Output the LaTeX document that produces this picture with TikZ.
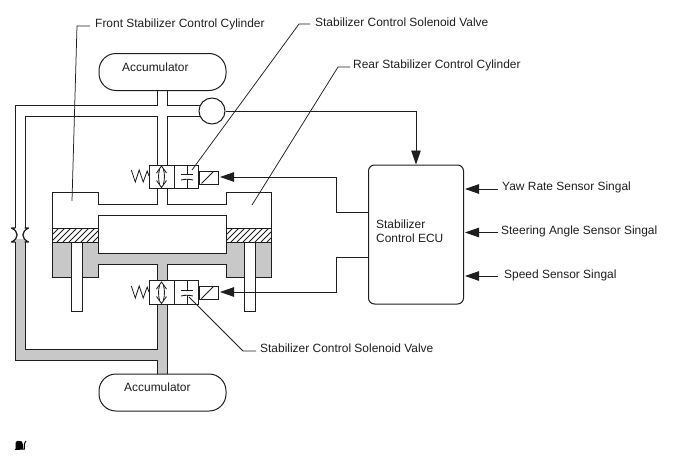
\documentclass[tikz,border=0pt]{standalone}
\usepackage{fontspec}
\setmainfont{Liberation Sans}
\usetikzlibrary{arrows.meta,calc}
\definecolor{ink}{RGB}{30,30,30}
\definecolor{fluid}{RGB}{200,200,200}
\tikzset{
  pipe/.style={draw=ink,line width=1pt,line join=miter},
  thinline/.style={draw=ink,line width=0.85pt},
  leader/.style={draw=ink,line width=0.75pt},
  signal/.style={draw=ink,line width=0.9pt,-{Triangle[length=14pt,width=9.5pt]}},
  accu/.style={draw=ink,line width=1pt,rectangle,rounded corners=17pt,minimum width=127pt,minimum height=37pt,inner sep=0pt},
  lbl/.style={inner sep=0pt,font=\fontsize{11.95}{14}\selectfont,text=ink,anchor=west},
  valvebody/.style={draw=ink,line width=1pt,fill=white,rectangle,minimum width=49pt,minimum height=23.5pt,inner sep=0pt},
  coilbox/.style={draw=ink,line width=1pt,fill=white,rectangle,minimum width=19pt,minimum height=13pt,inner sep=0pt},
  ecubox/.style={draw=ink,line width=1pt,rectangle,rounded corners=6pt,minimum width=95pt,minimum height=139pt,inner sep=0pt},
  gauge/.style={draw=ink,line width=1pt,fill=white,circle,minimum size=26pt,inner sep=0pt},
  rodpiece/.style={draw=ink,line width=1pt,fill=white}
}
% Spool symbols shared by both solenoid valves; #1 = top edge of the valve body
\newcommand{\valvesymbols}[1]{%
  \begin{scope}[yshift=-#1pt]
    \draw[thinline] (174,0) -- (174,23.5);
    % spring
    \draw[thinline] (131.3,5) -- (135.3,17) -- (139.2,5) -- (143.2,17) -- (147.2,6) -- (149,11);
    % double-headed passage
    \draw[thinline] (156.5,8) -- (161.5,1) -- (166.5,8);
    \draw[thinline] (156.5,15.5) -- (161.5,22.5) -- (166.5,15.5);
    \draw[thinline] (159.6,4) .. controls (158.2,9) and (158.2,14) .. (159.6,19.5);
    \draw[thinline] (163.4,4) .. controls (164.8,9) and (164.8,14) .. (163.4,19.5);
    % blocked passage
    \draw[thinline] (187,0) -- (187,9);
    \draw[thinline] (181,9) -- (193,9);
    \draw[thinline] (181,15) .. controls (185,14) and (189,14) .. (193,15);
    \draw[thinline] (187,14.3) -- (187,23.5);
  \end{scope}}
\begin{document}
\begin{tikzpicture}[x=1pt,y=-1pt]
\useasboundingbox (0,0) rectangle (688,463);

% Fluid-filled return circuit and lower manifold
\fill[fluid] (157,304) -- (167,304) -- (167,374) -- (157,374) -- (157,360) -- (15,360) -- (15,239)
  -- (25,239) -- (25,349) -- (157,349) -- cycle;
\path[pipe,fill=fluid] (98,242) -- (98,253) -- (226,253) -- (226,242) -- (271,242) -- (271,277) -- (226,277)
  -- (226,264) -- (167,264) -- (167,281) -- (157,281) -- (157,264) -- (98,264) -- (98,277) -- (52,277) -- (52,242) -- cycle;

% Supply circuit from the upper accumulator
\draw[pipe] (157,90) -- (157,105) -- (15,105) -- (15,228);
\draw[pipe] (157,165) -- (157,116) -- (25,116) -- (25,228);
\draw[pipe] (167,90) -- (167,105) -- (200,105);
\draw[pipe] (167,165) -- (167,116) -- (201,116);

% Return circuit outline
\draw[pipe] (15,242) -- (15,360) -- (157,360) -- (157,374);
\draw[pipe] (25,242) -- (25,349) -- (157,349) -- (157,304);
\draw[pipe] (167,304) -- (167,374);

% Restriction in the crossover line
\draw[pipe,line width=1.3pt,line join=round,line cap=round] (15,228) -- (11.5,228) .. controls (19,231.5) and (19,238.5) .. (11.5,242) -- (15,242);
\draw[pipe,line width=1.3pt,line join=round,line cap=round] (25,228) -- (28.5,228) .. controls (21,231.5) and (21,238.5) .. (28.5,242) -- (25,242);

% Cylinder bodies and the pipes that join them to the upper valve
\draw[pipe] (157,189) -- (157,204) -- (98,204) -- (98,192) -- (52,192) -- (52,242);
\draw[pipe] (167,189) -- (167,204) -- (226,204) -- (226,192) -- (271,192) -- (271,242);
\draw[pipe,fill=white] (98,253) -- (98,215) -- (226,215) -- (226,253);

% Pistons
\foreach \xa/\xb in {52/98,226/271}{
  \begin{scope}
    \clip (\xa,228) rectangle (\xb,242);
    \fill[white] (\xa,228) rectangle (\xb,242);
    \foreach \d in {-6,0,...,60}
      \draw[thinline] (\xa+\d-7,242) -- (\xa+\d+7,228);
  \end{scope}
  \draw[pipe] (\xa,228) rectangle (\xb,242);
}
\draw[rodpiece] (71,242) rectangle (82,311.5);
\draw[rodpiece] (244,242) rectangle (255,311.5);

% Accumulators and pressure sensor
\node[accu] (accTop) at (162.5,72) {};
\node[accu] (accBot) at (162.5,392.5) {};
\node[lbl] (accTopText) at (122,67) {Accumulator};
\node[lbl] (accBotText) at (124,387) {Accumulator};
\node[gauge] (sensor) at (212,111) {};

% Solenoid valves
\node[valvebody] (valveTop) at (173.5,177) {};
\node[valvebody] (valveBot) at (173.5,292.5) {};
\valvesymbols{165}
\valvesymbols{281}
\node[coilbox] (coilTop) at (208.5,177.5) {};
\node[coilbox] (coilBot) at (208.5,292.5) {};
\draw[thinline] (coilTop.south west) ++(3,-1) -- ($(coilTop.north east)+(-5,1)$);
\draw[thinline] (coilBot.south west) ++(3,-1) -- ($(coilBot.north east)+(-5,1)$);

% ECU and its signal wiring
\node[ecubox] (ecu) at (416,234.5) {};
\node[lbl,align=left,anchor=north west,font=\fontsize{11.95}{14.2}\selectfont] (ecuText) at (376,219.5) {Stabilizer\\Control ECU};
\coordinate (wireTop) at (ecu.west |- 0,212);
\coordinate (wireBot) at (ecu.west |- 0,257);
\coordinate (tipTop) at (220,177);
\coordinate (tipBot) at (220,292);
\draw[signal] (sensor.east) -- (ecu.north |- sensor.east) -- (ecu.north);
\draw[signal] (wireTop) -- (336,212) -- (336,177) -- (tipTop);
\draw[signal] (wireBot) -- (336,257) -- (336,292) -- (tipBot);

% Incoming sensor signals
\node[lbl] (yaw) at (502,187) {Yaw Rate Sensor Singal};
\node[lbl] (steer) at (501,231) {Steering Angle Sensor Singal};
\node[lbl] (speed) at (504,275) {Speed Sensor Singal};
\coordinate (yawEnd) at (465,189);
\coordinate (steerEnd) at (465,232.5);
\coordinate (speedEnd) at (465,276);
\draw[signal] (498,189) -- (yawEnd);
\draw[signal] (498,232.5) -- (steerEnd);
\draw[signal] (498,276) -- (speedEnd);

% Callouts
\node[lbl] (frontText) at (95,24) {Front Stabilizer Control Cylinder};
\node[lbl] (valveTopText) at (315,22) {Stabilizer Control Solenoid Valve};
\node[lbl] (rearText) at (353,65) {Rear Stabilizer Control Cylinder};
\node[lbl] (valveBotText) at (260,348) {Stabilizer Control Solenoid Valve};
\coordinate (frontTip) at (72,201);
\coordinate (valveTopTip) at (192,170);
\coordinate (rearTip) at (252,205);
\coordinate (valveBotTip) at (189,297);
\draw[leader] (frontTip) -- (77,26) -- (90,26);
\draw[leader] (valveTopTip) -- (299,24) -- (310,24);
\draw[leader] (rearTip) -- (338,67) -- (350,67);
\draw[leader] (valveBotTip) -- (243,351) -- (256,351);

% Small revision mark
\fill[black] (15.5,449) -- (15.5,443) .. controls (16,440.5) and (20,440) .. (22,441.5) -- (23,445) -- (23,449) -- cycle;
\draw[black,line width=1pt] (26,441) .. controls (24,443) and (24,447) .. (24.5,449) -- (15,449.5);
\end{tikzpicture}
\end{document}
